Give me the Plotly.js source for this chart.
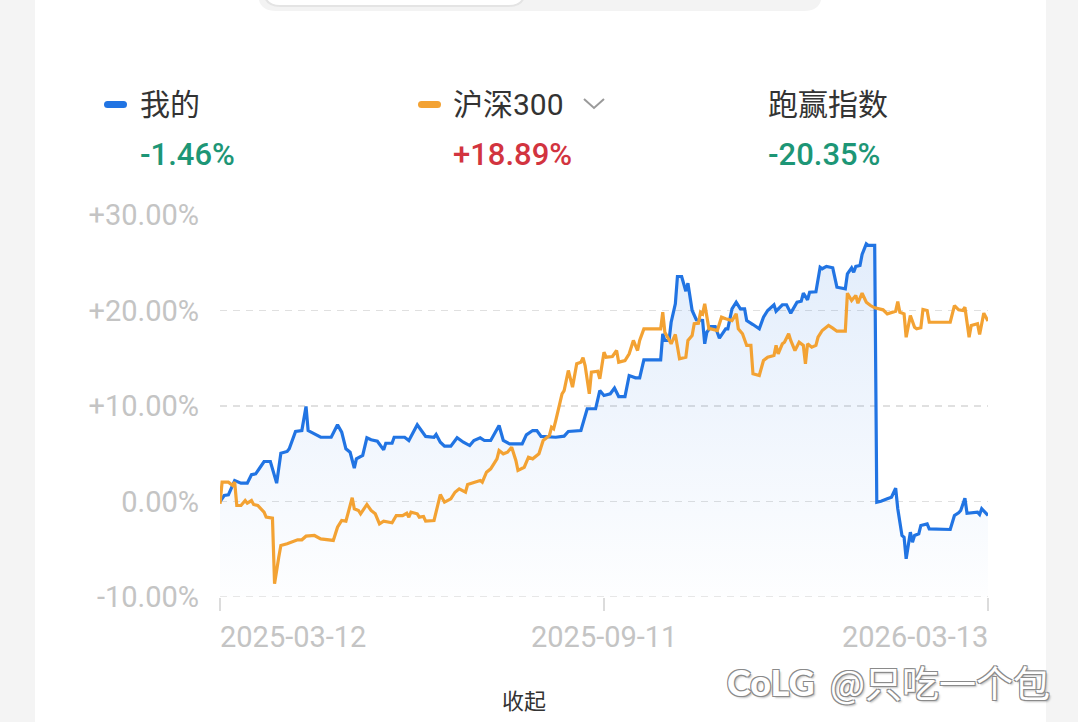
<!DOCTYPE html>
<html>
<head>
<meta charset="utf-8">
<script src="https://cdn.plot.ly/plotly-3.0.1.min.js"></script>
<style>
html,body{margin:0;padding:0;background:#f4f4f4;}
#chart{width:1078px;height:722px;}
</style>
</head>
<body>
<div id="chart"></div>
<script>
// ---------- data ----------
const SERIES_NAMES = ['我的', '沪深300', '跑赢指数'];
const SERIES_RESULTS = ['-1.46%', '+18.89%', '-20.35%'];

const X_TICKS = ['2025-03-12', '2025-09-11', '2026-03-13'];
const Y_TICKS = [-10, 0, 10, 20, 30];
const Y_TICK_TEXT = ['-10.00%', '0.00%', '+10.00%', '+20.00%', '+30.00%'];

const MINE_DATES = [
'2025-03-12','2025-03-14','2025-03-16','2025-03-19','2025-03-22','2025-03-25','2025-03-27','2025-03-29','2025-03-31','2025-04-02',
'2025-04-05','2025-04-08','2025-04-10','2025-04-13','2025-04-14','2025-04-17','2025-04-20','2025-04-22','2025-04-23','2025-04-27',
'2025-04-29','2025-05-04','2025-05-07','2025-05-09','2025-05-11','2025-05-13','2025-05-15','2025-05-16','2025-05-19','2025-05-21',
'2025-05-23','2025-05-26','2025-05-29','2025-05-30','2025-06-02','2025-06-03','2025-06-08','2025-06-10','2025-06-14','2025-06-18',
'2025-06-22','2025-06-23','2025-06-25','2025-06-27','2025-06-30','2025-07-03','2025-07-06','2025-07-09','2025-07-11','2025-07-14',
'2025-07-16','2025-07-19','2025-07-23','2025-07-25','2025-07-28','2025-08-03','2025-08-05','2025-08-08','2025-08-10','2025-08-12',
'2025-08-19','2025-08-23','2025-08-25','2025-08-31','2025-09-02','2025-09-03','2025-09-07','2025-09-09','2025-09-11','2025-09-14',
'2025-09-16','2025-09-18','2025-09-21','2025-09-23','2025-09-26','2025-09-28','2025-09-30','2025-10-08','2025-10-09','2025-10-10',
'2025-10-12','2025-10-13','2025-10-15','2025-10-16','2025-10-18','2025-10-20','2025-10-21','2025-10-23','2025-10-25','2025-10-28',
'2025-10-29','2025-10-30','2025-11-01','2025-11-03','2025-11-05','2025-11-08','2025-11-09','2025-11-11','2025-11-13','2025-11-15',
'2025-11-17','2025-11-18','2025-11-21','2025-11-24','2025-11-26','2025-11-28','2025-12-01','2025-12-02','2025-12-05','2025-12-07',
'2025-12-09','2025-12-12','2025-12-14','2025-12-15','2025-12-17','2025-12-18','2025-12-21','2025-12-23','2025-12-24','2025-12-26',
'2025-12-29','2025-12-31','2026-01-04','2026-01-05','2026-01-07','2026-01-08','2026-01-09','2026-01-11','2026-01-12','2026-01-14',
'2026-01-15','2026-01-18','2026-01-19','2026-01-21','2026-01-24','2026-01-26','2026-01-28','2026-01-29','2026-01-31','2026-02-01',
'2026-02-02','2026-02-04','2026-02-05','2026-02-06','2026-02-08','2026-02-09','2026-02-12','2026-02-13','2026-02-23','2026-02-25',
'2026-02-27','2026-02-28','2026-03-02','2026-03-03','2026-03-08','2026-03-09','2026-03-10','2026-03-13'];
const MINE = [
0.00,0.63,0.70,2.20,1.92,1.92,2.80,2.90,3.53,4.19,
4.19,1.92,5.06,5.24,5.52,7.33,7.43,9.95,7.43,7.02,
6.73,6.73,8.03,7.26,5.52,5.16,3.49,4.47,4.82,6.67,
6.46,6.31,5.41,6.10,6.10,6.73,6.73,6.39,8.03,6.81,
6.73,7.02,6.21,5.79,5.79,6.67,6.21,5.86,6.39,6.67,
6.39,6.39,7.96,6.39,6.04,6.04,6.98,7.43,7.43,6.81,
6.73,6.84,7.33,7.43,9.01,9.71,9.71,11.62,11.10,11.28,
11.88,10.99,10.99,13.19,12.95,12.95,14.84,14.84,17.56,16.86,
16.86,18.77,20.70,23.56,23.56,22.02,22.86,20.00,19.03,18.95,
16.51,17.73,18.32,18.32,17.10,18.08,18.08,20.18,20.87,20.18,
20.18,18.95,18.53,18.08,19.30,20.00,20.60,19.93,20.60,20.60,
19.72,20.87,20.97,21.81,21.12,21.92,21.96,24.53,24.37,24.61,
24.47,22.44,22.27,23.84,24.47,24.01,24.61,24.71,25.86,26.98,
26.81,26.81,-0.07,0.03,0.28,0.45,1.39,-0.76,-3.56,-3.74,
-6.00,-3.21,-4.26,-3.56,-3.38,-2.51,-2.34,-2.86,-2.93,-1.47,
-1.18,-0.94,0.35,-1.23,-1.12,-1.36,-0.76,-1.46];

const HS300_DATES = [
'2025-03-12','2025-03-13','2025-03-16','2025-03-18','2025-03-19','2025-03-20','2025-03-22','2025-03-24','2025-03-25','2025-03-27',
'2025-03-28','2025-03-30','2025-04-02','2025-04-03','2025-04-06','2025-04-07','2025-04-09','2025-04-10','2025-04-13','2025-04-15',
'2025-04-18','2025-04-20','2025-04-22','2025-04-26','2025-04-29','2025-05-05','2025-05-07','2025-05-09','2025-05-11','2025-05-14',
'2025-05-15','2025-05-17','2025-05-18','2025-05-21','2025-05-23','2025-05-25','2025-05-27','2025-05-29','2025-06-02','2025-06-04',
'2025-06-07','2025-06-09','2025-06-10','2025-06-11','2025-06-14','2025-06-15','2025-06-17','2025-06-18','2025-06-22','2025-06-25',
'2025-06-27','2025-06-30','2025-07-02','2025-07-04','2025-07-07','2025-07-08','2025-07-11','2025-07-14','2025-07-15','2025-07-17',
'2025-07-19','2025-07-22','2025-07-23','2025-07-25','2025-07-27','2025-07-29','2025-07-31','2025-08-01','2025-08-04','2025-08-06',
'2025-08-08','2025-08-11','2025-08-13','2025-08-16','2025-08-17','2025-08-18','2025-08-19','2025-08-22','2025-08-23','2025-08-25',
'2025-08-27','2025-08-29','2025-08-31','2025-09-01','2025-09-02','2025-09-04','2025-09-05','2025-09-08','2025-09-09','2025-09-11',
'2025-09-12','2025-09-15','2025-09-17','2025-09-18','2025-09-21','2025-09-23','2025-09-25','2025-09-27','2025-09-28','2025-09-30',
'2025-10-08','2025-10-09','2025-10-10','2025-10-13','2025-10-15','2025-10-17','2025-10-20','2025-10-21','2025-10-23','2025-10-24',
'2025-10-26','2025-10-27','2025-10-28','2025-10-29','2025-10-31','2025-11-01','2025-11-04','2025-11-06','2025-11-08','2025-11-11',
'2025-11-13','2025-11-14','2025-11-16','2025-11-18','2025-11-20','2025-11-21','2025-11-24','2025-11-26','2025-11-28','2025-12-01',
'2025-12-02','2025-12-03','2025-12-05','2025-12-06','2025-12-08','2025-12-09','2025-12-11','2025-12-13','2025-12-15','2025-12-16',
'2025-12-17','2025-12-19','2025-12-21','2025-12-22','2025-12-24','2025-12-27','2025-12-29','2025-12-31','2026-01-04','2026-01-05',
'2026-01-07','2026-01-09','2026-01-10','2026-01-11','2026-01-12','2026-01-14','2026-01-16','2026-01-18','2026-01-21','2026-01-22',
'2026-01-24','2026-01-27','2026-01-28','2026-01-29','2026-01-30','2026-02-01','2026-02-02','2026-02-04','2026-02-06','2026-02-07',
'2026-02-09','2026-02-10','2026-02-12','2026-02-13','2026-02-23','2026-02-25','2026-02-27','2026-03-01','2026-03-02','2026-03-04',
'2026-03-05','2026-03-08','2026-03-09','2026-03-11','2026-03-13'];
const HS300 = [
-0.24,2.02,2.02,1.68,2.02,-0.42,-0.42,0.10,-0.18,0.10,
-0.31,-0.42,-1.12,-1.64,-1.75,-8.62,-5.83,-4.61,-4.43,-4.26,
-4.01,-4.01,-3.63,-3.56,-3.91,-4.08,-2.69,-1.99,-2.06,0.39,
-0.76,-0.94,-1.29,-0.31,-0.94,-1.29,-2.34,-2.06,-2.23,-1.47,
-1.47,-1.23,-1.64,-1.12,-1.29,-1.64,-1.57,-2.06,-1.99,0.73,
-0.07,0.28,0.97,1.33,0.97,1.78,2.02,2.20,2.02,3.07,
3.42,4.47,5.34,4.99,5.16,5.69,4.29,3.25,3.59,4.64,
4.47,4.99,6.39,6.91,7.78,7.61,8.48,11.28,11.62,13.72,
11.97,14.42,14.59,15.05,14.24,11.28,13.54,13.64,12.85,15.63,
15.11,15.18,15.81,14.59,14.76,15.47,16.86,15.81,16.86,18.08,
18.08,19.82,17.73,16.51,17.49,14.94,15.11,16.86,17.38,18.61,
18.67,19.82,19.65,20.70,18.08,18.08,17.91,19.30,19.13,18.95,
19.65,18.08,17.56,16.34,16.34,13.37,13.19,14.76,15.11,15.29,
16.34,15.47,16.51,16.68,17.56,16.86,15.81,16.68,16.34,14.42,
16.51,16.16,16.34,17.20,17.91,18.43,18.15,17.83,17.83,21.81,
21.05,21.57,20.76,21.23,21.81,20.87,20.52,20.28,20.18,20.07,
19.65,19.82,19.93,20.94,19.82,19.65,17.20,19.48,18.25,18.08,
18.19,20.10,20.00,18.77,18.77,20.52,20.07,20.00,20.35,17.20,
18.43,18.61,17.49,19.72,18.89];

// ---------- styling / layout helpers ----------
const BLUE = '#2174e3';
const ORANGE = '#f3a233';
const GREEN = '#1d9676';
const RED = '#d2343f';
const GRID = '#e0e0e0';
const FONT = 'Roboto, "Noto Sans CJK SC", sans-serif';

// plot box in page pixels
const PL = 220, PR = 988, PT = 215, PB = 597;
const fx = px => (px - PL) / (PR - PL);
const fy = py => (PB - py) / (PB - PT);
function rrect(x0, y0, x1, y1, r) {
  const p = (x, y) => fx(x) + ',' + fy(y);
  return 'M' + p(x0 + r, y0) + ' L' + p(x1 - r, y0) + ' Q' + p(x1, y0) + ' ' + p(x1, y0 + r) +
    ' L' + p(x1, y1 - r) + ' Q' + p(x1, y1) + ' ' + p(x1 - r, y1) +
    ' L' + p(x0 + r, y1) + ' Q' + p(x0, y1) + ' ' + p(x0, y1 - r) +
    ' L' + p(x0, y0 + r) + ' Q' + p(x0, y0) + ' ' + p(x0 + r, y0) + ' Z';
}

const traces = [
  { // baseline for the area under "我的"
    x: [X_TICKS[0], X_TICKS[X_TICKS.length - 1]], y: [Y_TICKS[0], Y_TICKS[0]],
    type: 'scatter', mode: 'lines', line: { width: 0, color: 'rgba(0,0,0,0)' },
    hoverinfo: 'skip', showlegend: false
  },
  {
    x: MINE_DATES, y: MINE, name: SERIES_NAMES[0],
    type: 'scatter', mode: 'lines', fill: 'tonexty',
    fillgradient: { type: 'vertical', start: -12, stop: 27,
      colorscale: [[0, 'rgba(33,116,227,0.0)'], [1, 'rgba(33,116,227,0.13)']] },
    line: { color: BLUE, width: 3.2 }, showlegend: false
  },
  {
    x: HS300_DATES, y: HS300, name: SERIES_NAMES[1],
    type: 'scatter', mode: 'lines',
    line: { color: ORANGE, width: 3.2 }, showlegend: false
  }
];

const shapes = [
  // gray page sides
  { type: 'rect', xref: 'paper', yref: 'paper', x0: fx(-5), x1: fx(35), y0: fy(730), y1: fy(-10), fillcolor: '#f4f4f4', line: { width: 0 }, layer: 'below' },
  { type: 'rect', xref: 'paper', yref: 'paper', x0: fx(1046), x1: fx(1085), y0: fy(730), y1: fy(-10), fillcolor: '#f4f4f4', line: { width: 0 }, layer: 'below' },
  // segmented control at the top
  { type: 'path', xref: 'paper', yref: 'paper', path: rrect(258, -30, 822, 11, 18), fillcolor: '#f3f3f3', line: { width: 0 } },
  { type: 'path', xref: 'paper', yref: 'paper', path: rrect(264, -30, 525, 6, 16), fillcolor: '#ffffff', line: { color: '#e4e4e4', width: 2 } },
  // legend dashes
  { type: 'path', xref: 'paper', yref: 'paper', path: rrect(104, 101, 127, 108, 3.5), fillcolor: BLUE, line: { width: 0 } },
  { type: 'path', xref: 'paper', yref: 'paper', path: rrect(418, 101, 441, 108, 3.5), fillcolor: ORANGE, line: { width: 0 } },
  // dropdown chevron
  { type: 'path', xref: 'paper', yref: 'paper',
    path: 'M' + fx(584) + ',' + fy(99) + ' L' + fx(594) + ',' + fy(108) + ' L' + fx(604) + ',' + fy(99),
    line: { color: '#9a9a9a', width: 2 } },
  // dashed base line at the bottom of the value range
  { type: 'line', xref: 'paper', yref: 'y', x0: 0, x1: 1, y0: Y_TICKS[0], y1: Y_TICKS[0],
    line: { color: GRID, width: 1.5, dash: '7px,6px' } }
];

const legendX = [140, 453, 768];
const annotations = [];
SERIES_NAMES.forEach((n, i) => {
  annotations.push({ xref: 'paper', yref: 'paper', x: fx(legendX[i] - 2), y: fy(104), xanchor: 'left', yanchor: 'middle',
    text: n, showarrow: false, font: { family: FONT, size: 30, color: '#333333' } });
  annotations.push({ xref: 'paper', yref: 'paper', x: fx(legendX[i] - 2), y: fy(154), xanchor: 'left', yanchor: 'middle',
    text: SERIES_RESULTS[i], showarrow: false,
    font: { family: FONT, size: 31, weight: 500, color: SERIES_RESULTS[i].startsWith('+') ? RED : GREEN } });
});
// x tick labels: first left-aligned, middle centred, last right-aligned
const xAnchors = ['left', 'center', 'right'];
X_TICKS.forEach((t, i) => {
  annotations.push({ xref: 'x', yref: 'paper', x: t, y: fy(637), xanchor: xAnchors[i], yanchor: 'middle',
    xshift: i === 0 ? -2 : (i === 2 ? 2 : 0),
    text: t, showarrow: false, font: { family: FONT, size: 29, color: '#c4c4c4' } });
});
// watermark
const OUTLINE = '1px 1px 0 #8a8a8a, -1px -1px 0 #8a8a8a, 1px -1px 0 #8a8a8a, -1px 1px 0 #8a8a8a, 2px 2px 2px rgba(0,0,0,0.25)';
annotations.push({ xref: 'paper', yref: 'paper', x: fx(725), y: fy(682), xanchor: 'left', yanchor: 'middle',
  text: 'CoLG', showarrow: false, font: { family: 'Lato, sans-serif', size: 36, weight: 900, color: '#ffffff', shadow: OUTLINE } });
annotations.push({ xref: 'paper', yref: 'paper', x: fx(828), y: fy(682), xanchor: 'left', yanchor: 'middle',
  text: '@只吃一个包', showarrow: false, font: { family: '"Noto Sans CJK SC", sans-serif', size: 37, color: '#ffffff', shadow: OUTLINE } });
// button text at the bottom edge (kept fully inside the picture)
annotations.push({ xref: 'paper', yref: 'paper', x: fx(524), y: fy(699), xanchor: 'center', yanchor: 'middle',
  text: '收起', showarrow: false, font: { family: '"Noto Sans CJK SC", sans-serif', size: 22, color: '#333333' } });

const layout = {
  width: 1078, height: 722,
  margin: { l: PL, r: 1078 - PR, t: PT, b: 722 - PB, pad: 0 },
  paper_bgcolor: '#ffffff', plot_bgcolor: '#ffffff',
  showlegend: false,
  xaxis: {
    type: 'date', range: [X_TICKS[0], X_TICKS[X_TICKS.length - 1]],
    tickmode: 'array', tickvals: X_TICKS, showticklabels: false,
    ticks: 'outside', ticklen: 13, tickwidth: 1.5, tickcolor: '#dcdcdc',
    showgrid: false, zeroline: false, showline: false, fixedrange: true
  },
  yaxis: {
    range: [Y_TICKS[0], Y_TICKS[Y_TICKS.length - 1]],
    tickmode: 'array', tickvals: Y_TICKS, ticktext: Y_TICK_TEXT,
    tickfont: { family: FONT, size: 29, color: '#c4c4c4' },
    ticks: '', ticklabelstandoff: 20,
    showgrid: true, gridcolor: GRID, gridwidth: 1.5, griddash: '7px,6px',
    zeroline: false, showline: false, fixedrange: true
  },
  shapes: shapes,
  annotations: annotations
};

Plotly.newPlot('chart', traces, layout, { displayModeBar: false, staticPlot: true });
</script>
</body>
</html>
